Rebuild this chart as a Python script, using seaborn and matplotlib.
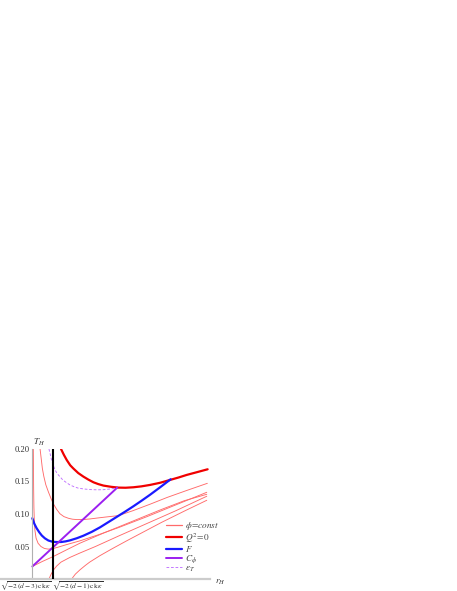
import numpy as np
import matplotlib
matplotlib.use("Agg")
import matplotlib.pyplot as plt
from matplotlib.lines import Line2D
import seaborn as sns

# horizon radius r_H (units where sqrt(-2(d-3)ck kappa) = 1) and temperature T_H
r_axis = 1.0
r_black = 1.732

# Q^2 = 0 (thick red)
q0_r = [2.00, 2.10, 2.20, 2.32, 2.43, 2.60, 2.78, 2.95, 3.13, 3.30, 3.48, 3.75, 4.00,
        4.25, 4.52, 4.80, 5.10, 5.45, 5.80, 6.10, 6.38, 6.75, 7.11]
q0_t = [0.200, 0.191, 0.183, 0.175, 0.170, 0.163, 0.1575, 0.153, 0.1488, 0.146, 0.1437,
        0.1418, 0.1406, 0.1404, 0.1411, 0.1425, 0.1447, 0.1480, 0.1524, 0.1562, 0.1601,
        0.1645, 0.1688]

# F (blue)
f_r = [1.00, 1.07, 1.15, 1.24, 1.33, 1.44, 1.56, 1.68, 1.79, 1.90, 2.02, 2.16, 2.31,
       2.55, 2.78, 3.07, 3.36, 3.65, 3.94, 4.23, 4.52, 4.81, 5.10, 5.46, 5.82]
f_t = [0.0935, 0.0850, 0.0781, 0.0720, 0.0669, 0.0625, 0.0592, 0.0576, 0.0570, 0.0568,
       0.0570, 0.0579, 0.0594, 0.0627, 0.0666, 0.0725, 0.0795, 0.0875, 0.0955, 0.1035,
       0.1118, 0.1205, 0.1295, 0.1413, 0.1534]

# C_phi (purple)
c_r = [1.00, 2.00, 3.00, 3.96]
c_t = [0.0193, 0.0602, 0.1012, 0.1406]

# epsilon_T (dashed purple)
e_r = [1.58, 1.63, 1.67, 1.73, 1.79, 1.87, 1.96, 2.05, 2.14, 2.30, 2.45, 2.60, 2.80,
       3.01, 3.25, 3.48, 3.70, 3.94]
e_t = [0.200, 0.191, 0.183, 0.175, 0.168, 0.162, 0.1575, 0.153, 0.1498, 0.145, 0.1420,
       0.1398, 0.1385, 0.1376, 0.1372, 0.1374, 0.1384, 0.1400]

# phi = const curves (thin red)
phi1_r = [1.035, 1.04, 1.045, 1.055, 1.07, 1.09, 1.13, 1.20, 1.30, 1.42, 1.55, 1.70,
          1.90, 2.20, 2.66, 3.30, 4.00, 5.00, 6.00, 7.08]
phi1_t = [0.200, 0.170, 0.140, 0.110, 0.090, 0.075, 0.063, 0.055, 0.050, 0.047, 0.046,
          0.0465, 0.049, 0.053, 0.0587, 0.068, 0.079, 0.096, 0.114, 0.1334]

phi2_r = [1.27, 1.31, 1.35, 1.40, 1.47, 1.56, 1.65, 1.73, 1.85, 1.96, 2.10, 2.26, 2.40,
          2.55, 2.78, 3.01, 3.30, 3.59, 4.00, 4.50, 5.10, 5.70, 6.40, 7.10]
phi2_t = [0.200, 0.185, 0.170, 0.158, 0.145, 0.134, 0.124, 0.1159, 0.107, 0.1005, 0.096,
          0.0934, 0.0920, 0.0914, 0.0915, 0.0924, 0.0940, 0.0955, 0.0975, 0.1050, 0.1150,
          0.1255, 0.1365, 0.1472]

phi3_r = [1.00, 1.35, 1.73, 2.20, 2.66, 3.50, 4.50, 5.50, 6.30, 7.08]
phi3_t = [0.0193, 0.027, 0.0346, 0.045, 0.0551, 0.071, 0.089, 0.107, 0.1205, 0.1303]

phi4_r = [1.58, 1.65, 1.73, 1.85, 2.00, 2.30, 2.66, 3.20, 4.00, 5.00, 6.00, 7.08]
phi4_t = [0.0, 0.007, 0.0135, 0.020, 0.026, 0.033, 0.0400, 0.050, 0.066, 0.0855, 0.105,
          0.1273]

phi5_r = [2.37, 2.50, 2.66, 2.85, 3.00, 3.36, 3.80, 4.30, 4.90, 5.50, 6.30, 7.08]
phi5_t = [0.0, 0.0075, 0.0141, 0.021, 0.026, 0.036, 0.047, 0.059, 0.073, 0.087, 0.1045,
          0.1211]

y_ticks = [0.05, 0.10, 0.15, 0.20]
x_labels = [r"$\sqrt{-2\,(d-3)\,\mathrm{ck}\,\kappa}$", r"$\sqrt{-2\,(d-1)\,\mathrm{ck}\,\kappa}$"]
legend_labels = [r"$\phi\!=\!const$", r"$Q^2\!=\!0$", r"$F$", r"$C_\phi$", r"$\varepsilon_T$"]

# styles: thin phi, Q^2, F, C_phi, eps_T
styles = [dict(color="#ff6a6a", lw=0.65),
          dict(color="#f00000", lw=1.6),
          dict(color="#1a1aff", lw=1.6),
          dict(color="#9b1ff0", lw=1.4),
          dict(color="#c070ff", lw=0.65, linestyle=(0, (3, 2)))]

sns.set_style("white")
plt.rcParams["font.family"] = ["Liberation Serif", "DejaVu Serif"]
plt.rcParams["mathtext.fontset"] = "stix"

fig = plt.figure(figsize=(4.57, 5.91), dpi=100)
ax = fig.add_axes([0.0, 12 / 591, 210 / 457, 130 / 591])

phi_sets = [(phi1_r, phi1_t), (phi2_r, phi2_t), (phi3_r, phi3_t), (phi4_r, phi4_t), (phi5_r, phi5_t)]
for xr, yt in phi_sets:
    sns.lineplot(x=xr, y=yt, sort=False, estimator=None, ax=ax, **styles[0])

for (xr, yt), st in zip([(q0_r, q0_t), (f_r, f_t), (c_r, c_t), (e_r, e_t)], styles[1:]):
    sns.lineplot(x=xr, y=yt, sort=False, estimator=None, ax=ax, **st)

ax.axvline(r_black, 0, 1, color="black", lw=1.5, zorder=5)

ax.set_xlim(r_axis - 32.33 / 28.69, r_axis + (210 - 32.33) / 28.69)
ax.set_ylim(0, 0.2)

for s in ["top", "right"]:
    ax.spines[s].set_visible(False)
ax.spines["left"].set_position(("data", r_axis))
ax.spines["left"].set_color("#b0b0b0")
ax.spines["left"].set_linewidth(0.8)
ax.spines["bottom"].set_color("#cccccc")
ax.spines["bottom"].set_linewidth(1.6)

ax.set_yticks(y_ticks)
ax.set_yticklabels([f"{v:.2f}" for v in y_ticks])
ax.set_yticks(np.arange(0.01, 0.2, 0.01), minor=True)
ax.tick_params(axis="y", which="major", direction="in", length=3, width=0.5,
               color="#888888", labelsize=6.2, labelcolor="#333333", pad=1.5)
ax.tick_params(axis="y", which="minor", direction="in", length=1.5, width=0.4,
               color="#999999")
ax.set_xticks([])

ax.annotate(x_labels[0], xy=(r_black, 0), xytext=(-2, -7), textcoords="offset pixels",
            ha="right", va="center", fontsize=5.3, color="#333333")
ax.annotate(x_labels[1], xy=(r_black, 0), xytext=(-1, -7), textcoords="offset pixels",
            ha="left", va="center", fontsize=5.3, color="#333333")

ax.annotate(r"$T_H$", xy=(r_axis, 0.2), xytext=(1, 7), textcoords="offset pixels",
            ha="left", va="center", fontsize=6.5, color="#333333")
ax.annotate(r"$r_H$", xy=(1, 0), xycoords="axes fraction", xytext=(10, -3),
            textcoords="offset pixels", ha="center", va="center", fontsize=6.5,
            color="#333333")
ax.set_xlabel("")
ax.set_ylabel("")

handles = [Line2D([], [], **st) for st in styles]
handles[0].set_linewidth(0.9)
leg = ax.legend(handles, legend_labels, loc="upper left",
                bbox_to_anchor=(166 / 457, (591 - 520) / 591),
                bbox_transform=fig.transFigure, frameon=False, fontsize=6.7,
                handlelength=1.75, handletextpad=0.3, labelspacing=-0.08,
                borderpad=0, borderaxespad=0)
for t in leg.get_texts():
    t.set_color("#444444")

fig.savefig("out.png", dpi=100, facecolor="white")
